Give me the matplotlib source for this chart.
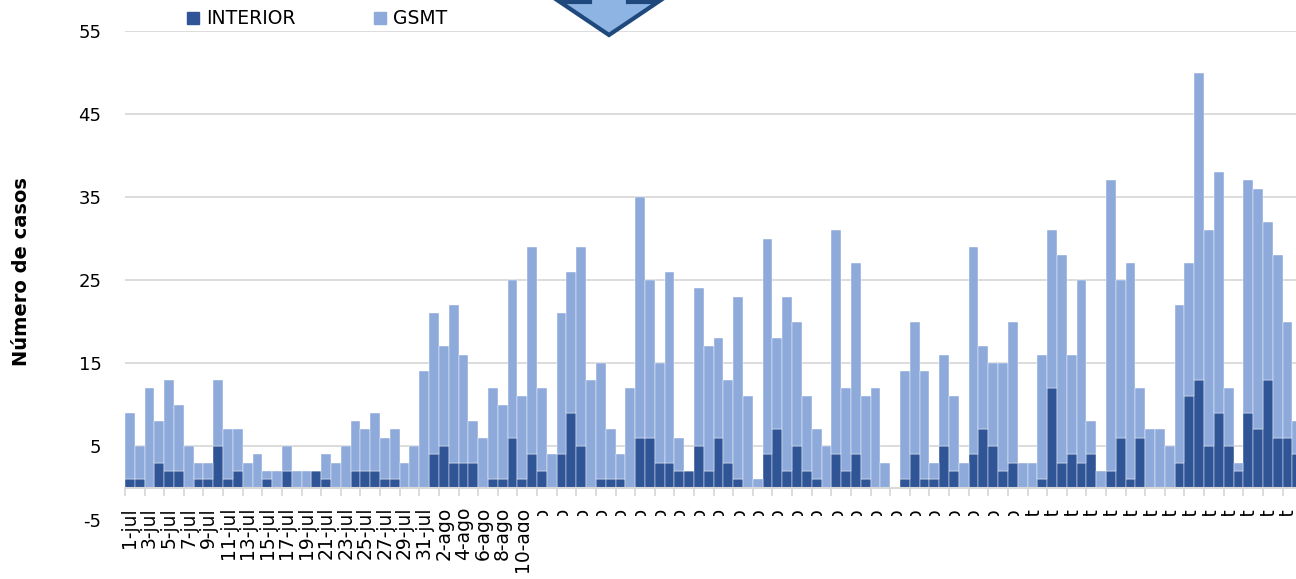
import pandas as pd
import matplotlib
matplotlib.use("Agg")
import matplotlib.pyplot as plt
from matplotlib.patches import Patch, Polygon, Rectangle
from matplotlib.ticker import FixedLocator
import matplotlib.transforms as mtransforms

# daily cases, 1-jul onwards
interior = [1, 1, 0, 3, 2, 2, 0, 1, 1, 5, 1, 2, 0, 0, 1, 0, 2, 0, 0, 2,
            1, 0, 0, 2, 2, 2, 1, 1, 0, 0, 0, 4, 5, 3, 3, 3, 0, 1, 1, 6,
            1, 4, 2, 0, 4, 9, 5, 0, 1, 1, 1, 0, 6, 6, 3, 3, 2, 2, 5, 2,
            6, 3, 1, 0, 0, 4, 7, 2, 5, 2, 1, 0, 4, 2, 4, 1, 0, 0, 0, 1,
            4, 1, 1, 5, 2, 0, 4, 7, 5, 2, 3, 0, 0, 1, 12, 3, 4, 3, 4, 0,
            2, 6, 1, 6, 0, 0, 0, 3, 11, 13, 5, 9, 5, 2, 9, 7, 13, 6, 6, 4]
gsmt = [8, 4, 12, 5, 11, 8, 5, 2, 2, 8, 6, 5, 3, 4, 1, 2, 3, 2, 2, 0,
        3, 3, 5, 6, 5, 7, 5, 6, 3, 5, 14, 17, 12, 19, 13, 5, 6, 11, 9, 19,
        10, 25, 10, 4, 17, 17, 24, 13, 14, 6, 3, 12, 29, 19, 12, 23, 4, 0, 19, 15,
        12, 10, 22, 11, 1, 26, 11, 21, 15, 9, 6, 5, 27, 10, 23, 10, 12, 3, 0, 13,
        16, 13, 2, 11, 9, 3, 25, 10, 10, 13, 17, 3, 3, 15, 19, 25, 12, 22, 4, 2,
        35, 19, 26, 6, 7, 7, 5, 19, 16, 37, 26, 29, 7, 1, 28, 29, 19, 22, 14, 4]

MONTHS = {7: "jul", 8: "ago", 9: "sep", 10: "oct"}
dates = pd.date_range("2020-07-01", periods=len(interior))
day_labels = [f"{d.day}-{MONTHS[d.month]}" for d in dates]
y_ticks = [-5, 5, 15, 25, 35, 45, 55]

DARK = "#2F5597"
LIGHT = "#8EAADB"
GRID = "#D9D9D9"
W, H = 1296, 579


def main():
    fig = plt.figure(figsize=(W / 100, H / 100), dpi=100)
    ax = fig.add_axes([125 / W, (H - 529) / H, (1302.2 - 125) / W, (529 - 31) / H])

    x = list(range(len(interior)))
    for v in y_ticks[1:]:
        ax.axhline(v, color=GRID, lw=1.3, zorder=0)
    ax.bar(x, interior, width=1.0, color=DARK, edgecolor="white", linewidth=0.3, zorder=2)
    ax.bar(x, gsmt, width=1.0, bottom=interior, color=LIGHT, edgecolor="white",
           linewidth=0.3, zorder=2)

    ax.set_xlim(-0.5, len(interior) - 0.5)
    ax.set_ylim(-5, 55)
    for s in ["top", "right", "left"]:
        ax.spines[s].set_visible(False)
    ax.spines["bottom"].set_position(("data", 0))
    ax.spines["bottom"].set_color(GRID)
    ax.spines["bottom"].set_linewidth(1.5)
    ax.spines["bottom"].set_zorder(3)

    ax.set_xticks(x[::2])
    ax.set_xticklabels(day_labels[::2], rotation=90, fontsize=13.5, va="top")
    ax.xaxis.set_minor_locator(FixedLocator([i - 0.5 for i in x[::2]]))
    ax.tick_params(axis="x", which="major", length=0, pad=14)
    ax.tick_params(axis="x", which="minor", length=6, width=1.3, color=GRID)

    ax.set_yticks(y_ticks)
    ax.set_yticklabels([str(v) for v in y_ticks], fontsize=13)
    ax.tick_params(axis="y", length=0, pad=17)
    lab = ax.get_yticklabels()[0]
    lab.set_transform(lab.get_transform() +
                      mtransforms.ScaledTranslation(0, 9 / 100, fig.dpi_scale_trans))

    fig.text(22 / W, 1 - 272 / H, "Número de casos", rotation=90, fontsize=14,
             fontweight="bold", ha="center", va="center")

    handles = [Patch(color=DARK, label="INTERIOR"), Patch(color=LIGHT, label="GSMT")]
    fig.legend(handles=handles, loc="center left", bbox_to_anchor=(187 / W, 1 - 19 / H),
               ncol=2, frameon=False, fontsize=13.5, handlelength=0.62, handleheight=0.62,
               handletextpad=0.4, columnspacing=4.2, borderpad=0, borderaxespad=0)

    # block arrow cut off at the top
    arrow_px = [(590, -20), (590, 2), (560, 2), (609, 35), (658, 2), (628, 2), (628, -20)]
    arrow = Polygon([(px / W, 1 - py / H) for px, py in arrow_px], closed=True,
                    transform=fig.transFigure, facecolor="#8DB4E2", edgecolor="#1F497D",
                    linewidth=3, joinstyle="miter", zorder=6)
    fig.add_artist(arrow)

    # labels after 10-ago are hidden under a white box in the original
    fig.add_artist(Rectangle((529 / W, 0), 1 - 529 / W, (H - 516) / H,
                             transform=fig.transFigure, facecolor="white",
                             edgecolor="none", zorder=5))

    fig.savefig("out.png", dpi=100)
    plt.close(fig)


if __name__ == "__main__":
    main()
